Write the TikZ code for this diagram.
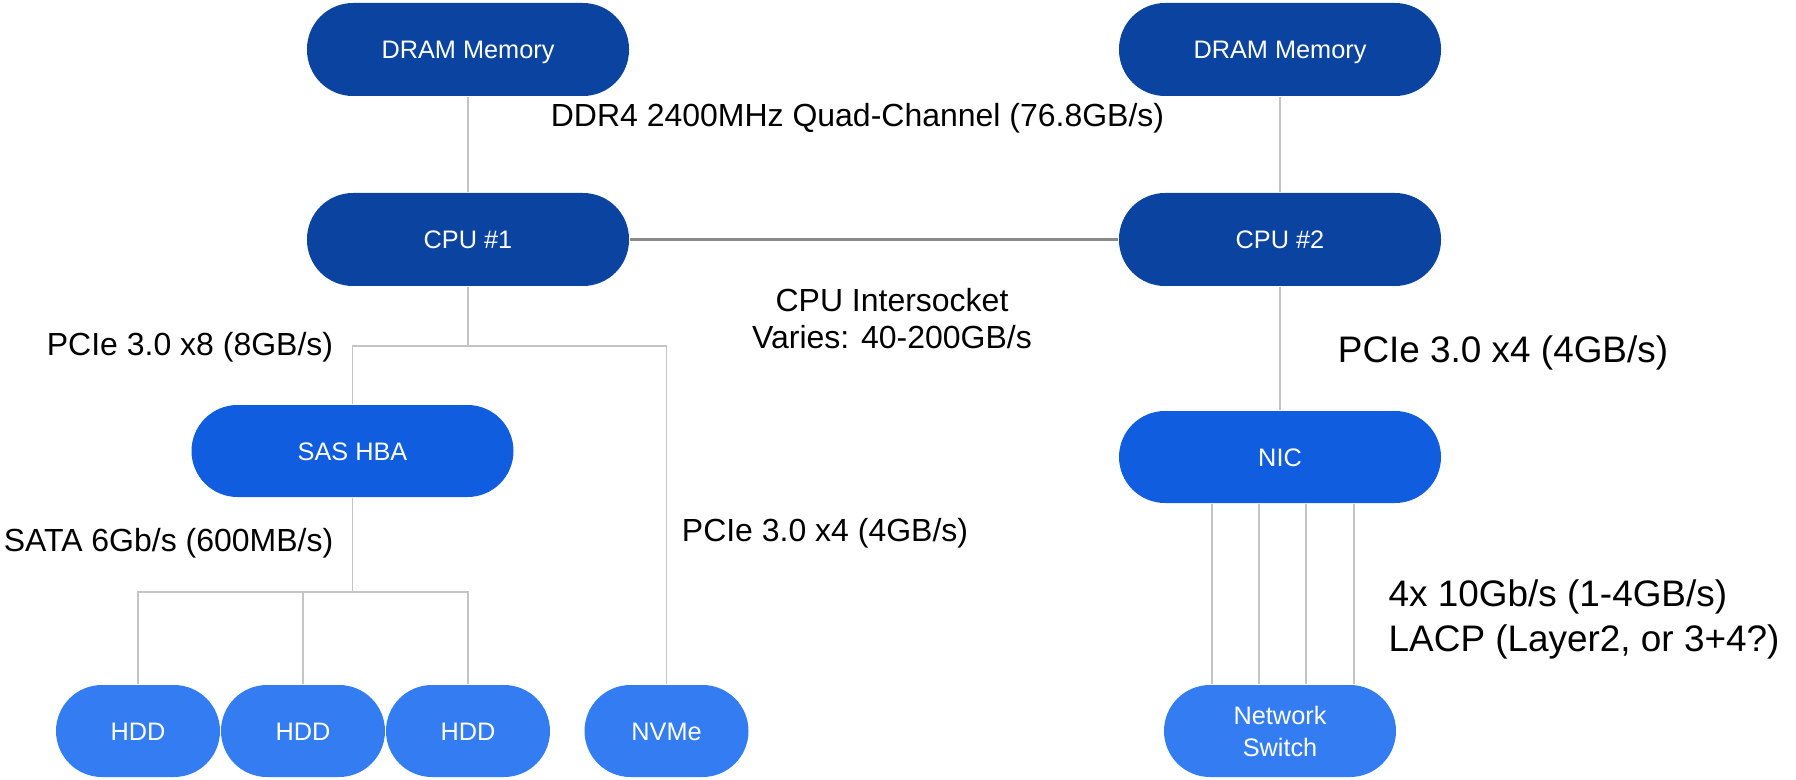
\documentclass[tikz,border=0pt]{standalone}
\usepackage{fontspec}
\setmainfont{Liberation Sans}
\usepackage{tikz}

\definecolor{cpublue}{HTML}{0B44A0}
\definecolor{cardblue}{HTML}{105DE0}
\definecolor{diskblue}{HTML}{337CF2}
\definecolor{linegray}{HTML}{C4C4C4}
\definecolor{busgray}{HTML}{8A8A8A}

\begin{document}
\begin{tikzpicture}[
		every node/.style={inner sep=0pt},
		box/.style={rectangle, rounded corners=0.46cm, minimum height=0.93cm, text=white, align=center, font=\fontsize{7.2}{9.1}\selectfont},
		oneline/.style={box, text height=5.2pt, text depth=0pt},
		chip/.style={oneline, fill=cpublue, minimum width=3.22cm},
		card/.style={oneline, fill=cardblue, minimum width=3.22cm, minimum height=0.92cm},
		disk/.style={oneline, fill=diskblue, minimum width=1.64cm, minimum height=0.92cm},
		hub/.style={box, fill=diskblue, minimum width=2.32cm, minimum height=0.92cm},
		wire/.style={draw=linegray, line width=0.5pt},
		lbl/.style={align=center, font=\fontsize{9.1}{10.5}\selectfont},
		biglbl/.style={align=left, font=\fontsize{10.5}{12.8}\selectfont}
	]
		
		\useasboundingbox (0,0) rectangle (17.96,7.79);
		
		% Memory and the two sockets
		\node[chip] (mem1) at (4.68,7.295) {DRAM Memory};
		\node[chip] (mem2) at (12.80,7.295) {DRAM Memory};
		\node[chip] (cpu1) at (4.68,5.395) {CPU \#1};
		\node[chip] (cpu2) at (12.80,5.395) {CPU \#2};
		
		% Add-in cards
		\node[card] (hba) at (3.525,3.28) {SAS HBA};
		\node[card] (nic) at (12.80,3.22) {NIC};
		
		% Drives and the switch
		\foreach \x [count=\i] in {1.38,3.03,4.68}
		\node[disk] (hdd\i) at (\x,0.48) {HDD};
		\node[disk] (nvme) at (6.665,0.48) {NVMe};
		\node[hub] (switch) at (12.80,0.48) {Network\\Switch};
		
		% Memory channels and the socket link
		\draw[wire] (mem1) -- (cpu1);
		\draw[wire] (mem2) -- (cpu2);
		\draw[draw=busgray, line width=0.6pt] (cpu1) -- (cpu2);
		\draw[wire] (cpu2) -- (nic);
		
		% PCIe lanes out of CPU #1
		\coordinate (pcie) at (4.68,4.33);
		\draw[wire] (cpu1) -- (pcie);
		\draw[wire] (hba.north) |- (pcie);
		\draw[wire] (nvme.north) |- (pcie);
		
		% SATA fan-out to the disks
		\coordinate (sata) at (3.525,1.87);
		\draw[wire] (hba) -- (sata);
		\foreach \i in {1,2,3}
		\draw[wire] (hdd\i.north) |- (sata);
		
		% Four links from the NIC to the switch
		\foreach \dx in {-0.68,-0.21,0.26,0.74}
		\draw[wire] ([xshift=\dx cm]nic.south) -- ([xshift=\dx cm]switch.north);
		
		% Bandwidth labels
		\node[lbl] (ddr) at (8.575,6.61) {DDR4 2400MHz Quad-Channel (76.8GB/s)};
		\node[lbl] (x8) at (1.90,4.32) {PCIe 3.0 x8 (8GB/s)};
		\node[lbl] (satalbl) at (1.685,2.36) {SATA 6Gb/s (600MB/s)};
		\node[lbl] (nvmelbl) at (8.25,2.46) {PCIe 3.0 x4 (4GB/s)};
		\node[lbl] (qpi) at (8.92,4.60) {CPU Intersocket\\Varies: 40-200GB/s};
		\node[biglbl] (niclbl) at (15.03,4.26) {PCIe 3.0 x4 (4GB/s)};
		\node[biglbl, anchor=west] (lacp) at (13.88,1.595) {4x 10Gb/s (1-4GB/s)\\LACP (Layer2, or 3+4?)};
		
	\end{tikzpicture}
\end{document}
